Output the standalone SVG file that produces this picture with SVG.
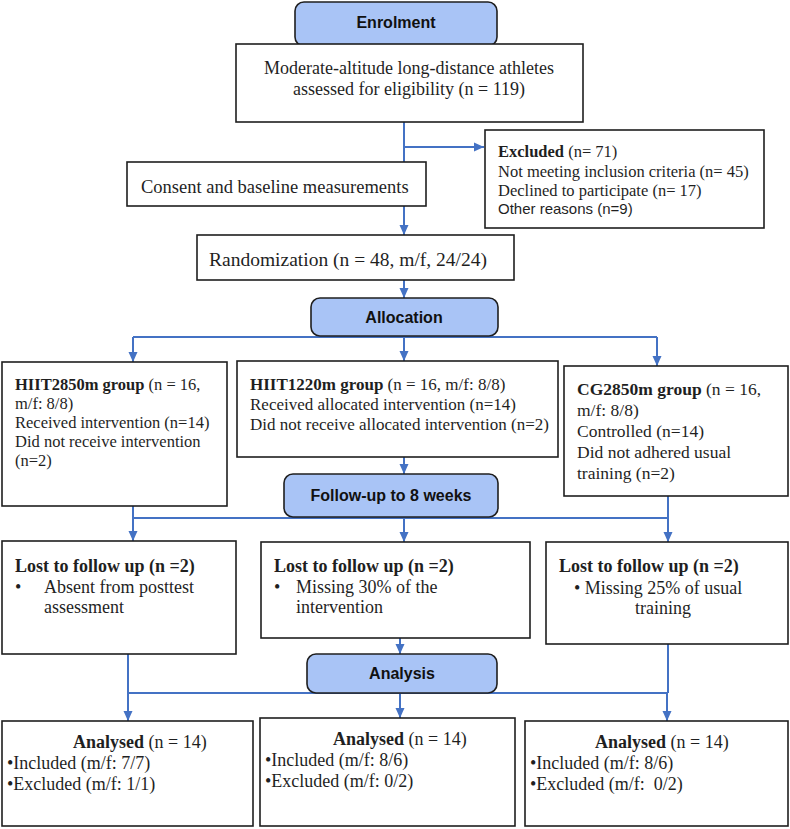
<svg xmlns="http://www.w3.org/2000/svg" width="790" height="829" viewBox="0 0 790 829">
<style>
.box{fill:#ffffff;stroke:#1f1f1f;stroke-width:1.6}
.hdr{fill:#a9c4f6;stroke:#1f1f1f;stroke-width:1.6}
.conn{stroke:#4472c4;stroke-width:2;fill:none}
.ser{font-family:"Liberation Serif","Times New Roman",serif;fill:#1f1f1f}
.hl{font-family:"Liberation Sans",Arial,sans-serif;font-weight:bold;font-size:16px;fill:#111;text-anchor:middle}
.b{font-weight:bold}
</style>
<defs>
<marker id="ah" markerWidth="10" markerHeight="10" refX="10" refY="5" orient="auto" markerUnits="userSpaceOnUse">
<path d="M0,0.5 L10,5 L0,9.5 z" fill="#4472c4"/>
</marker>
</defs>
<g id="connectors">
<path class="conn" d="M404,122 V162"/>
<path class="conn" d="M404,147 H484" marker-end="url(#ah)"/>
<path class="conn" d="M404,206 V235" marker-end="url(#ah)"/>
<path class="conn" d="M404,280 V298" marker-end="url(#ah)"/>
<path class="conn" d="M133,337 H657"/>
<path class="conn" d="M133,337 V362" marker-end="url(#ah)"/>
<path class="conn" d="M404,337 V361" marker-end="url(#ah)"/>
<path class="conn" d="M657,337 V366" marker-end="url(#ah)"/>
<path class="conn" d="M404,457 V474" marker-end="url(#ah)"/>
<path class="conn" d="M133,506 V518 H668"/>
<path class="conn" d="M668,496 V518"/>
<path class="conn" d="M133,518 V541" marker-end="url(#ah)"/>
<path class="conn" d="M404,518 V542" marker-end="url(#ah)"/>
<path class="conn" d="M668,518 V542" marker-end="url(#ah)"/>
<path class="conn" d="M400,638 V654" marker-end="url(#ah)"/>
<path class="conn" d="M128,654 V693 H668"/>
<path class="conn" d="M668,644 V693"/>
<path class="conn" d="M128,693 V721" marker-end="url(#ah)"/>
<path class="conn" d="M400,693 V718" marker-end="url(#ah)"/>
<path class="conn" d="M667,693 V721" marker-end="url(#ah)"/>
</g>
<g id="enrolment">
<rect class="hdr" x="295" y="2" width="202" height="44" rx="9"/>
<text class="hl" x="396" y="28">Enrolment</text>
</g>
<g id="eligibility">
<rect class="box" x="236" y="44" width="347" height="78"/>
<text class="ser" font-size="18" text-anchor="middle" x="409" y="74">Moderate-altitude long-distance athletes</text>
<text class="ser" font-size="18" text-anchor="middle" x="409" y="95">assessed for eligibility (n = 119)</text>
</g>
<g id="consent">
<rect class="box" x="127" y="162" width="299" height="44"/>
<text class="ser" font-size="18.5" x="141" y="193">Consent and baseline measurements</text>
</g>
<g id="excluded">
<rect class="box" x="485" y="130" width="279" height="98"/>
<text class="ser" font-size="16.5" x="498" y="157"><tspan class="b">Excluded</tspan> (n= 71)</text>
<text class="ser" font-size="16.5" x="498" y="177">Not meeting inclusion criteria (n= 45)</text>
<text class="ser" font-size="16.5" x="498" y="196">Declined to participate (n= 17)</text>
<text font-family="Liberation Sans,Arial,sans-serif" font-size="15" fill="#1f1f1f" x="498" y="214">Other reasons (n=9)</text>
</g>
<g id="randomization">
<rect class="box" x="197" y="235" width="317" height="45"/>
<text class="ser" font-size="19.5" x="209" y="266">Randomization (n = 48, m/f, 24/24)</text>
</g>
<g id="allocation">
<rect class="hdr" x="311" y="298" width="187" height="38" rx="9"/>
<text class="hl" x="404" y="323">Allocation</text>
</g>
<g id="hiit2850">
<rect class="box" x="2" y="362" width="225" height="144"/>
<text class="ser" font-size="16.5" x="15" y="390"><tspan class="b">HIIT2850m group</tspan> (n = 16,</text>
<text class="ser" font-size="16.5" x="15" y="409">m/f: 8/8)</text>
<text class="ser" font-size="16.5" x="15" y="428">Received intervention (n=14)</text>
<text class="ser" font-size="16.5" x="15" y="447">Did not receive intervention</text>
<text class="ser" font-size="16.5" x="15" y="466">(n=2)</text>
</g>
<g id="hiit1220">
<rect class="box" x="237" y="361" width="321" height="96"/>
<text class="ser" font-size="17" x="250" y="390"><tspan class="b">HIIT1220m group</tspan> (n = 16, m/f: 8/8)</text>
<text class="ser" font-size="17" x="250" y="410">Received allocated intervention (n=14)</text>
<text class="ser" font-size="17" x="250" y="430">Did not receive allocated intervention (n=2)</text>
</g>
<g id="cg2850">
<rect class="box" x="564" y="366" width="224" height="130"/>
<text class="ser" font-size="17.5" x="577" y="395"><tspan class="b">CG2850m group</tspan> (n = 16,</text>
<text class="ser" font-size="17.5" x="577" y="416">m/f: 8/8)</text>
<text class="ser" font-size="17.5" x="577" y="437">Controlled (n=14)</text>
<text class="ser" font-size="17.5" x="577" y="458">Did not adhered usual</text>
<text class="ser" font-size="17.5" x="577" y="479">training (n=2)</text>
</g>
<g id="followup">
<rect class="hdr" x="284" y="474" width="214" height="43" rx="9"/>
<text class="hl" x="391" y="501">Follow-up to 8 weeks</text>
</g>
<g id="lost1">
<rect class="box" x="2" y="541" width="234" height="113"/>
<text class="ser b" font-size="18" x="15" y="572">Lost to follow up (n =2)</text>
<text class="ser" font-size="18" x="15" y="593">•</text>
<text class="ser" font-size="18" x="44" y="593">Absent from posttest</text>
<text class="ser" font-size="18" x="44" y="613">assessment</text>
</g>
<g id="lost2">
<rect class="box" x="261" y="542" width="269" height="96"/>
<text class="ser b" font-size="18" x="274" y="572">Lost to follow up (n =2)</text>
<text class="ser" font-size="18" x="274" y="593">•</text>
<text class="ser" font-size="18" x="296" y="593">Missing 30% of the</text>
<text class="ser" font-size="18" x="296" y="613">intervention</text>
</g>
<g id="lost3">
<rect class="box" x="546" y="542" width="242" height="102"/>
<text class="ser b" font-size="18" x="559" y="572">Lost to follow up (n =2)</text>
<text class="ser" font-size="18" x="574" y="594">• Missing 25% of usual</text>
<text class="ser" font-size="18" x="635" y="614">training</text>
</g>
<g id="analysis">
<rect class="hdr" x="307" y="654" width="190" height="39" rx="9"/>
<text class="hl" x="402" y="679">Analysis</text>
</g>
<g id="analysed1">
<rect class="box" x="2" y="721" width="251" height="105"/>
<text class="ser" font-size="18" x="73" y="748"><tspan class="b">Analysed</tspan> (n = 14)</text>
<text class="ser" font-size="18" x="7" y="769">•Included (m/f: 7/7)</text>
<text class="ser" font-size="18" x="7" y="790">•Excluded (m/f: 1/1)</text>
</g>
<g id="analysed2">
<rect class="box" x="260" y="718" width="255" height="108"/>
<text class="ser" font-size="18" x="333" y="745"><tspan class="b">Analysed</tspan> (n = 14)</text>
<text class="ser" font-size="18" x="265" y="766">•Included (m/f: 8/6)</text>
<text class="ser" font-size="18" x="265" y="787">•Excluded (m/f: 0/2)</text>
</g>
<g id="analysed3">
<rect class="box" x="525" y="721" width="263" height="105"/>
<text class="ser" font-size="18" x="595" y="748"><tspan class="b">Analysed</tspan> (n = 14)</text>
<text class="ser" font-size="18" x="530" y="769">•Included (m/f: 8/6)</text>
<text class="ser" font-size="18" x="530" y="790" xml:space="preserve">•Excluded (m/f:  0/2)</text>
</g>
</svg>
